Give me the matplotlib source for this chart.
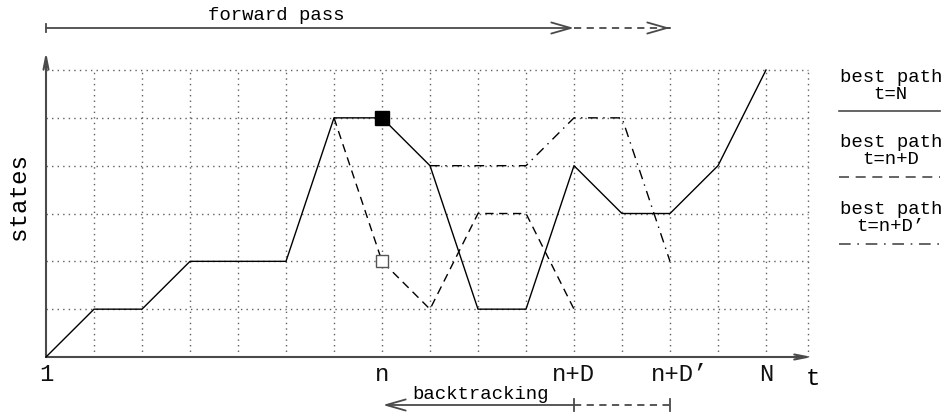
import numpy as np
import matplotlib
matplotlib.use("Agg")
import matplotlib.pyplot as plt

# trellis paths (time step index, state index)
t_best_N = [0, 1, 2, 3, 4, 5, 6, 7, 8, 9, 10, 11, 12, 13, 14, 15]
s_best_N = [0, 1, 1, 2, 2, 2, 5, 5, 4, 1, 1, 4, 3, 3, 4, 6]
t_best_nD = [6, 7, 8, 9, 10, 11]
s_best_nD = [5, 2, 1, 3, 3, 1]
t_best_nD2 = [8, 9, 10, 11, 12, 13]
s_best_nD2 = [4, 4, 4, 5, 5, 2]

tick_pos = [0, 7, 11, 13, 15]
tick_text = ["1", "n", "n+D", "n+D\u2019", "N"]
legend_text = ["best path\nt=N", "best path\nt=n+D", "best path\nt=n+D\u2019"]

MONO = "Liberation Mono"
AX_COL = "#4a4a4a"

# pixel mapping: x unit = 48 px, y unit ~ 47.8 px, origin at (46, 357) from top-left
W, H = 945, 416
ux, uy = 48.0, 47.83
x0, y0 = 46, 357

fig = plt.figure(figsize=(W / 100, H / 100), dpi=100)
ax = fig.add_axes([0, 0, 1, 1])
ax.set_xlim(-x0 / ux, (W - x0) / ux)
ax.set_ylim(-(H - y0) / uy, y0 / uy)
ax.axis("off")

# dotted grid
x_right = 15.875
grid_kw = dict(color="#606060", lw=1.0, ls=(0, (1, 3)), zorder=1)
for gx in list(range(1, 16)) + [x_right]:
    ax.plot([gx, gx], [0, 6], **grid_kw)
for gy in range(1, 7):
    ax.plot([0, x_right], [gy, gy], **grid_kw)

# axes with arrows
ax.annotate("", xy=(15.96, 0), xytext=(0, 0),
            arrowprops=dict(arrowstyle="->,head_length=0.9,head_width=0.18",
                            lw=1.5, color=AX_COL, shrinkA=0, shrinkB=0))
ax.annotate("", xy=(0, 6.38), xytext=(0, 0),
            arrowprops=dict(arrowstyle="->,head_length=0.9,head_width=0.18",
                            lw=1.5, color=AX_COL, shrinkA=0, shrinkB=0))

# paths
ax.plot(t_best_N, s_best_N, color="black", lw=1.0, zorder=3)
ax.plot(t_best_nD, s_best_nD, color="black", lw=1.0, ls=(0, (6, 4)), zorder=3)
ax.plot(t_best_nD2, s_best_nD2, color="black", lw=1.0, ls=(0, (7, 4, 1, 4)), zorder=3)
ax.plot([7], [5], marker="s", ms=10, color="black", zorder=4)
ax.plot([7], [2], marker="s", ms=9, mfc="white", mec="#555555", mew=1.0, zorder=4)

# tick labels
for xp, lab in zip(tick_pos, tick_text):
    dx = 0.2 if lab.endswith("\u2019") else 0.0
    ax.text(xp + dx, -0.36, lab, family=MONO, fontsize=17.2, ha="center",
            va="center", color="#111111")
ax.text(15.98, -0.44, "t", family=MONO, fontsize=17.2, ha="center", va="center")
ax.text(-0.57, 3.36, "states", family=MONO, fontsize=17.4, rotation=90,
        ha="center", va="center")

# forward pass arrow
yf = (y0 - 28) / uy
head = "->,head_length=1.4,head_width=0.4"
ax.annotate("", xy=(11, yf), xytext=(0, yf),
            arrowprops=dict(arrowstyle=head, lw=1.3, color=AX_COL,
                            shrinkA=0, shrinkB=0))
ax.plot([11, 12.95], [yf, yf], color=AX_COL, lw=1.3, ls=(0, (4, 3)))
ax.annotate("", xy=(13, yf), xytext=(12.99, yf),
            arrowprops=dict(arrowstyle=head, lw=1.3, color=AX_COL,
                            shrinkA=0, shrinkB=0))
ax.plot([0, 0], [yf - 0.09, yf + 0.09], color=AX_COL, lw=1.3)
ax.text(4.8, 7.15, "forward pass", family=MONO, fontsize=13.7, ha="center",
        va="center")

# backtracking arrow
yb = (y0 - 405) / uy
ax.annotate("", xy=(7.02, yb), xytext=(11, yb),
            arrowprops=dict(arrowstyle=head, lw=1.3, color=AX_COL,
                            shrinkA=0, shrinkB=0))
ax.plot([11, 13], [yb, yb], color=AX_COL, lw=1.3, ls=(0, (4, 3)))
for xt in (11, 13):
    ax.plot([xt, xt], [yb - 0.12, yb + 0.12], color=AX_COL, lw=1.3)
ax.text(9.06, -0.79, "backtracking", family=MONO, fontsize=13.7, ha="center",
        va="center")

# legend
styles = ["-", (0, (6, 4)), (0, (7, 4, 1, 4))]
text_y = [(y0 - 86) / uy, (y0 - 151) / uy, (y0 - 218) / uy]
line_y = [(y0 - 111) / uy, (y0 - 177) / uy, (y0 - 244) / uy]
for lab, ls, ty, ly in zip(legend_text, styles, text_y, line_y):
    ax.text(17.6, ty, lab, family=MONO, fontsize=13.7, ha="center",
            va="center", linespacing=1.0)
    ax.plot([16.52, 18.62], [ly, ly], color=AX_COL, lw=1.2, ls=ls)

fig.savefig("out.png", dpi=100)
